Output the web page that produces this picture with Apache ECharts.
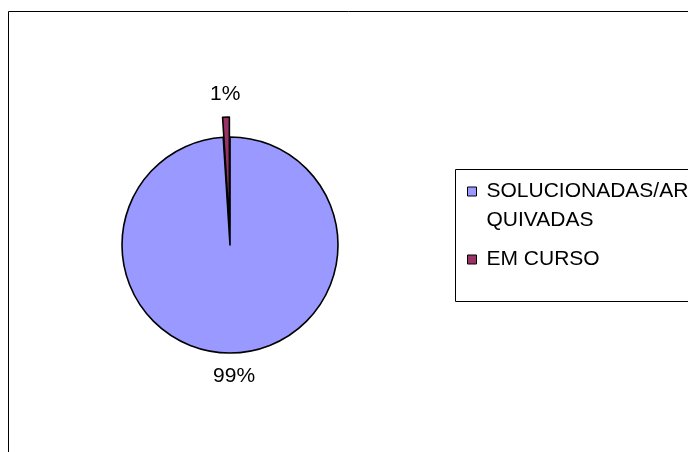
<!DOCTYPE html>
<html>
<head>
<meta charset="utf-8">
<script src="https://cdn.jsdelivr.net/npm/echarts@6/dist/echarts.min.js"></script>
<style>
  html, body { margin: 0; padding: 0; background: #fff; }
  #chart { width: 688px; height: 452px; }
</style>
</head>
<body>
<div id="chart"></div>
<script>
const categories = ['SOLUCIONADAS/ARQUIVADAS', 'EM CURSO']
// leading blank line keeps the first text line level with the legend square
const legendLabels = ['\nSOLUCIONADAS/AR\nQUIVADAS', 'EM CURSO']
const values = [99, 1]
const colors = ['#9999FF', '#993366']

const font = "'Liberation Sans', Arial, sans-serif"

const chart = echarts.init(document.getElementById('chart'))

const option = {
  backgroundColor: '#fff',
  animation: false,
  graphic: [
    // outer chart frame
    {
      type: 'rect',
      shape: { x: 8.5, y: 11.5, width: 700, height: 460 },
      style: { fill: 'none', stroke: '#000', lineWidth: 1 },
      silent: true
    },
    // legend frame
    {
      type: 'rect',
      shape: { x: 455.5, y: 169.5, width: 260, height: 132 },
      style: { fill: 'none', stroke: '#000', lineWidth: 1 },
      silent: true
    }
  ],
  legend: {
    orient: 'vertical',
    left: 467,
    top: 148,
    padding: 0,
    itemGap: 10,
    itemWidth: 9,
    itemHeight: 9,
    icon: 'rect',
    selectedMode: false,
    itemStyle: { borderColor: '#000', borderWidth: 1 },
    textStyle: { fontFamily: font, fontSize: 21, color: '#000', lineHeight: 29, padding: [0, 0, 0, 5] },
    formatter: (name) => legendLabels[categories.indexOf(name)],
    data: categories
  },
  series: [{
    type: 'pie',
    center: [230, 245],
    radius: 108,
    startAngle: 90,
    clockwise: true,
    selectedMode: 'single',
    selectedOffset: 20,
    percentPrecision: 0,
    emphasis: { disabled: true },
    itemStyle: { borderColor: '#000', borderWidth: 1.6 },
    label: {
      show: true,
      position: 'outside',
      formatter: '{d}%',
      fontFamily: font,
      fontSize: 21,
      color: '#000',
      distanceToLabelLine: 0
    },
    labelLine: { show: false, length: 23, length2: 0 },
    labelLayout: { align: 'center', verticalAlign: 'middle' },
    data: categories.map((name, i) => ({
      name: name,
      value: values[i],
      selected: i === 1,
      itemStyle: { color: colors[i] }
    }))
  }]
}

chart.setOption(option)
</script>
</body>
</html>
